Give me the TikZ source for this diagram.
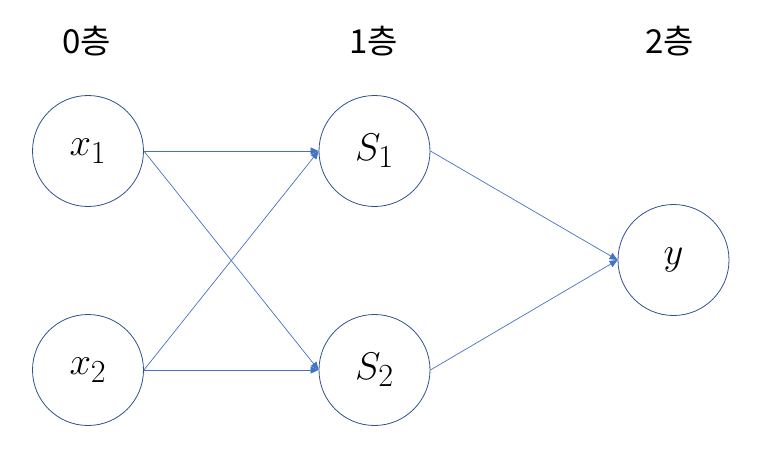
\documentclass[tikz,border=0pt]{standalone}
\usepackage{fontspec}
\newfontfamily\krfont{Noto Sans CJK KR}
\usetikzlibrary{arrows.meta}
\definecolor{ringcol}{RGB}{47,82,143}
\definecolor{linkcol}{RGB}{68,114,196}
\newcommand{\unitlabel}[1]{\scalebox{1.55}{\Huge$#1$}}
\newcommand{\layerlabel}[1]{{\krfont\fontsize{33}{33}\selectfont #1}}
\begin{document}
\begin{tikzpicture}[x=1pt,y=-1pt,
  unit/.style={circle,draw=ringcol,line width=0.8pt,minimum size=111pt,inner sep=0pt},
  layer/.style={inner sep=0pt},
  link/.style={draw=linkcol,line width=0.7pt,-{Triangle[length=8pt,width=7pt]}}]
\useasboundingbox (0,0) rectangle (758,458);
% layer captions
\node[layer] (l0) at (87,41) {\layerlabel{0층}};
\node[layer] (l1) at (374,41) {\layerlabel{1층}};
\node[layer] (l2) at (670,41) {\layerlabel{2층}};
% units
\node[unit] (x1) at (88,151) {\unitlabel{x_1}};
\node[unit] (x2) at (88,370) {\unitlabel{x_2}};
\node[unit] (s1) at (374.5,151) {\unitlabel{S_1}};
\node[unit] (s2) at (374.5,370) {\unitlabel{S_2}};
\node[unit] (y) at (673.5,260) {\unitlabel{y}};
% connections
\draw[link] (x1.east) -- (s1.west);
\draw[link] (x1.east) -- (s2.west);
\draw[link] (x2.east) -- (s1.west);
\draw[link] (x2.east) -- (s2.west);
\draw[link] (s1.east) -- (y.west);
\draw[link] (s2.east) -- (y.west);
\end{tikzpicture}
\end{document}
